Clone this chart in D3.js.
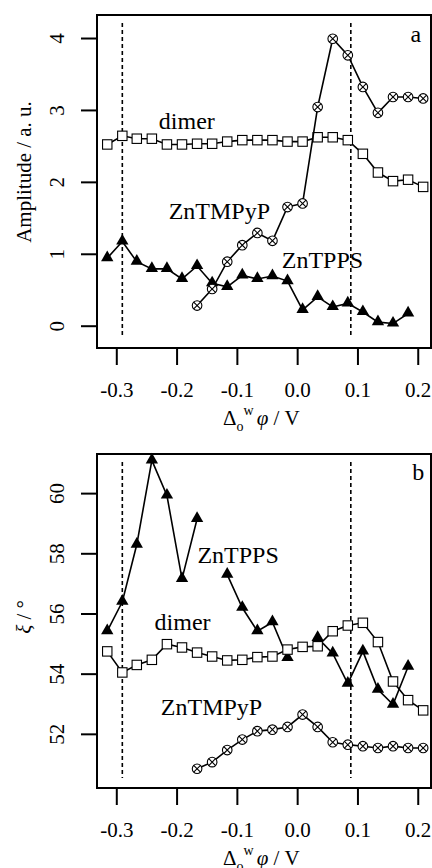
<!DOCTYPE html>
<html>
<head>
<meta charset="utf-8">
<script src="https://cdn.jsdelivr.net/npm/d3@7"></script>
<style>
  body { margin: 0; background: #fff; }
  svg text { font-family: "Liberation Serif", Tinos, "Times New Roman", Times, "DejaVu Serif", serif !important; fill: #000; }
</style>
</head>
<body>
<div class="chart"></div>
<script>
// frame
let FRAME_WIDTH = 432;
let FRAME_HEIGHT = 868;

// potential axis (V), shared by every series
const potential = [-0.315, -0.290, -0.266, -0.241, -0.216, -0.191, -0.166, -0.141, -0.116, -0.091, -0.066,
                   -0.041, -0.016, 0.009, 0.034, 0.059, 0.084, 0.109, 0.134, 0.159, 0.184, 0.209];

// panel a: amplitude / a.u.
const ampDimer = [2.52, 2.64, 2.60, 2.60, 2.52, 2.52, 2.53, 2.53, 2.56, 2.58, 2.58,
                  2.58, 2.56, 2.56, 2.62, 2.62, 2.58, 2.39, 2.13, 2.01, 2.03, 1.93];
const ampTMPyP = [null, null, null, null, null, null, 0.28, 0.51, 0.89, 1.12, 1.29,
                  1.18, 1.65, 1.70, 3.04, 3.99, 3.76, 3.32, 2.96, 3.18, 3.18, 3.16];
const ampTPPS = [0.94, 1.17, 0.89, 0.79, 0.79, 0.65, 0.83, 0.59, 0.54, 0.70, 0.65,
                 0.69, 0.62, 0.22, 0.40, 0.26, 0.31, 0.19, 0.05, 0.03, 0.17, null];

// panel b: xi / degree
const xiDimer = [54.74, 54.04, 54.29, 54.46, 54.98, 54.87, 54.70, 54.57, 54.44, 54.46, 54.55,
                 54.57, 54.80, 54.89, 54.91, 55.41, 55.60, 55.69, 55.05, 53.74, 53.12, 52.78];
const xiTMPyP = [null, null, null, null, null, null, 50.84, 51.06, 51.46, 51.81, 52.09,
                 52.14, 52.23, 52.64, 52.23, 51.72, 51.64, 51.59, 51.53, 51.59, 51.53, 51.53];
const xiTPPS = [55.41, 56.39, 58.29, 61.09, 59.92, 57.15, 59.14, null, 57.29, 56.19, 55.41,
                55.71, 54.52, null, 55.19, 54.67, 53.67, 54.74, 53.47, 52.97, 54.23, null];

// tick labels
const xTicks = [-0.3, -0.2, -0.1, 0.0, 0.1, 0.2];
const ampTicks = [0, 1, 2, 3, 4];
const xiTicks = [52, 54, 56, 58, 60];

// dashed reference potentials
const vLines = [-0.29, 0.089];

const svg = d3.select(".chart").append("svg")
  .attr("width", FRAME_WIDTH)
  .attr("height", FRAME_HEIGHT);

const FONT = 21;
const SERIF = "'Liberation Serif', Tinos, 'Times New Roman', Times, 'DejaVu Serif', serif";

function drawPanel(cfg) {
  const x = d3.scaleLinear().domain([-0.332, 0.222]).range([97, 431]);
  const y = d3.scaleLinear().domain(cfg.yDomain).range([cfg.bottom, cfg.top]);
  const g = svg.append("g").attr("font-family", SERIF);

  // x axis
  const xAxis = g.append("g")
    .attr("transform", "translate(0," + cfg.bottom + ")")
    .call(d3.axisBottom(x).tickValues(xTicks).tickSize(17).tickPadding(17)
      .tickFormat(d3.format(".1f")));
  xAxis.attr("font-family", SERIF);
  xAxis.select(".domain").remove();
  xAxis.selectAll("line").attr("stroke", "#000").attr("stroke-width", 2);
  xAxis.selectAll("text").attr("font-size", FONT).attr("dy", "0.71em")
    .text(d => d3.format(".1f")(d).replace("−", "-"));

  // y axis
  const yAxis = g.append("g")
    .attr("transform", "translate(97,0)")
    .call(d3.axisLeft(y).tickValues(cfg.yTicks).tickSize(16).tickFormat(d3.format("d")));
  yAxis.attr("font-family", SERIF);
  yAxis.select(".domain").remove();
  yAxis.selectAll("line").attr("stroke", "#000").attr("stroke-width", 2);
  yAxis.selectAll("text")
    .attr("font-size", FONT)
    .attr("x", null).attr("dy", null)
    .attr("text-anchor", "middle")
    .attr("transform", "translate(-33,0) rotate(-90)");

  // dashed lines
  g.selectAll(".vline").data(vLines).enter().append("line")
    .attr("x1", d => x(d)).attr("x2", d => x(d))
    .attr("y1", cfg.top + 8).attr("y2", cfg.bottom - 10)
    .attr("stroke", "#000").attr("stroke-width", 1.6)
    .attr("stroke-dasharray", "4,3");

  const line = d3.line()
    .defined(d => d[1] != null)
    .x(d => x(d[0])).y(d => y(d[1]));

  function pts(vals) { return potential.map((p, i) => [p, vals[i]]); }

  // triangles (ZnTPPS)
  const tri = pts(cfg.tpps);
  g.append("path").attr("d", line(tri)).attr("fill", "none")
    .attr("stroke", "#000").attr("stroke-width", 1.6);
  g.selectAll(".tri").data(tri.filter(d => d[1] != null)).enter().append("path")
    .attr("d", d3.symbol().type(d3.symbolTriangle).size(66))
    .attr("transform", d => "translate(" + x(d[0]) + "," + (y(d[1]) - 0.5) + ")")
    .attr("fill", "#000");

  // squares (dimer)
  const sq = pts(cfg.dimer);
  g.append("path").attr("d", line(sq)).attr("fill", "none")
    .attr("stroke", "#000").attr("stroke-width", 1.6);
  g.selectAll(".sq").data(sq).enter().append("rect")
    .attr("x", d => x(d[0]) - 4.7).attr("y", d => y(d[1]) - 4.7)
    .attr("width", 9.4).attr("height", 9.4)
    .attr("fill", "#fff").attr("stroke", "#000").attr("stroke-width", 1.1);

  // circled crosses (ZnTMPyP)
  const cx = pts(cfg.tmpyp).filter(d => d[1] != null);
  g.append("path").attr("d", line(cx)).attr("fill", "none")
    .attr("stroke", "#000").attr("stroke-width", 1.6);
  const mk = g.selectAll(".cx").data(cx).enter().append("g")
    .attr("transform", d => "translate(" + x(d[0]) + "," + y(d[1]) + ")");
  mk.append("circle").attr("r", 4.8)
    .attr("fill", "#fff").attr("stroke", "#000").attr("stroke-width", 1.1);
  mk.append("path").attr("d", "M-3.4,-3.4L3.4,3.4M-3.4,3.4L3.4,-3.4")
    .attr("stroke", "#000").attr("stroke-width", 1.1);

  // frame
  g.append("rect")
    .attr("x", 97).attr("y", cfg.top)
    .attr("width", 431 - 97).attr("height", cfg.bottom - cfg.top)
    .attr("fill", "none").attr("stroke", "#000").attr("stroke-width", 2);

  // series annotations
  cfg.notes.forEach(n => {
    g.append("text")
      .attr("x", x(n.x)).attr("y", y(n.y))
      .attr("text-anchor", "middle")
      .attr("font-size", 24)
      .text(n.t);
  });

  // x axis title
  const t = g.append("text")
    .attr("x", 223).attr("y", cfg.bottom + 77)
    .attr("font-size", FONT);
  t.append("tspan").text("\u0394");
  t.append("tspan").attr("font-size", 14).attr("dy", 6).text("o");
  t.append("tspan").attr("font-size", 14).attr("dy", -16).text("w");
  t.append("tspan").attr("font-style", "italic").attr("dy", 10).attr("dx", 3).text("\u03c6");
  t.append("tspan").text(" / V");

  // y axis title
  const yt = g.append("text")
    .attr("transform", "translate(" + cfg.yTitleX + "," + cfg.yTitleY + ") rotate(-90)")
    .attr("text-anchor", "middle")
    .attr("font-size", FONT);
  cfg.yTitle(yt);
}

drawPanel({
  top: 15, bottom: 348, yDomain: [-0.31, 4.32], yTicks: ampTicks,
  dimer: ampDimer, tmpyp: ampTMPyP, tpps: ampTPPS,
  notes: [
    {t: "dimer", x: -0.183, y: 2.73},
    {t: "ZnTMPyP", x: -0.129, y: 1.49},
    {t: "ZnTPPS", x: 0.042, y: 0.80},
    {t: "a", x: 0.197, y: 3.95}
  ],
  yTitleX: 31, yTitleY: 172,
  yTitle: s => s.text("Amplitude / a. u.")
});

drawPanel({
  top: 454, bottom: 788, yDomain: [50.2, 61.3], yTicks: xiTicks,
  dimer: xiDimer, tmpyp: xiTMPyP, tpps: xiTPPS,
  notes: [
    {t: "ZnTPPS", x: -0.098, y: 57.69},
    {t: "dimer", x: -0.190, y: 55.45},
    {t: "ZnTMPyP", x: -0.142, y: 52.62},
    {t: "b", x: 0.201, y: 60.44}
  ],
  yTitleX: 31, yTitleY: 617,
  yTitle: s => {
    s.append("tspan").attr("font-style", "italic").text("\u03be");
    s.append("tspan").text(" / \u00b0");
  }
});
</script>
</body>
</html>
